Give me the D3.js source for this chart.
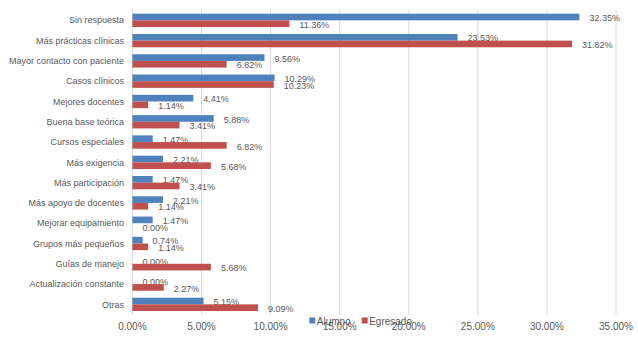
<!DOCTYPE html>
<html><head><meta charset="utf-8">
<script src="https://cdn.jsdelivr.net/npm/d3@7"></script>
<style>body{margin:0;background:#fff}</style>
</head><body>
<svg id="c" width="638" height="345"></svg>
<script>
const categories = ["Sin respuesta","Más prácticas clínicas","Mayor contacto con paciente","Casos clínicos","Mejores docentes","Buena base teórica","Cursos especiales","Más exigencia","Más participación","Más apoyo de docentes","Mejorar equipamiento","Grupos más pequeños","Guías de manejo","Actualización constante","Otras"];
const alumno = [32.35,23.53,9.56,10.29,4.41,5.88,1.47,2.21,1.47,2.21,1.47,0.74,0.00,0.00,5.15];
const egresado = [11.36,31.82,6.82,10.23,1.14,3.41,6.82,5.68,3.41,1.14,0.00,1.14,5.68,2.27,9.09];
const seriesNames = ["Alumno","Egresado"];
const colors = ["#4F81BD","#C0504D"];
const ticks = [0,5,10,15,20,25,30,35];

const svg = d3.select("#c");
const font = "'Liberation Sans', Arial, sans-serif";
const x = d3.scaleLinear().domain([0,35]).range([132.4,616]);
const y = d3.scaleBand().domain(categories).range([10.2,314.5]).paddingInner(0.345).paddingOuter(0.1725);
const ys = d3.scaleBand().domain(seriesNames).range([0,y.bandwidth()]);

// gridlines
svg.append("g").selectAll("line").data(ticks).join("line")
  .attr("x1",d=>x(d)).attr("x2",d=>x(d)).attr("y1",10).attr("y2",315)
  .attr("stroke","#D9D9D9").attr("stroke-width",1);

// tick labels
svg.append("g").selectAll("text").data(ticks).join("text")
  .attr("x",d=>x(d)).attr("y",330).attr("text-anchor","middle")
  .attr("font-family",font).attr("font-size",10).attr("fill","#595959")
  .text(d=>d.toFixed(2)+"%");

// category labels
svg.append("g").selectAll("text").data(categories).join("text")
  .attr("x",124).attr("y",d=>y(d)+y.bandwidth()/2).attr("dy","0.35em")
  .attr("text-anchor","end").attr("font-family",font).attr("font-size",9)
  .attr("fill","#595959").text(d=>d);

const data = [alumno, egresado];
data.forEach((vals,si)=>{
  const g = svg.append("g");
  g.selectAll("rect").data(vals).join("rect")
    .attr("x",x(0)).attr("y",(d,i)=>y(categories[i])+ys(seriesNames[si]))
    .attr("width",d=>x(d)-x(0)).attr("height",ys.bandwidth())
    .attr("fill",colors[si]);
  g.selectAll("text").data(vals).join("text")
    .attr("x",d=>x(d)+10).attr("y",(d,i)=>y(categories[i])+ys(seriesNames[si])+ys.bandwidth()/2+1)
    .attr("dy","0.35em").attr("font-family",font).attr("font-size",9)
    .attr("fill","#595959").text(d=>d.toFixed(2)+"%");
});

// legend
const leg = svg.append("g");
const legX = [309.3, 361.7];
seriesNames.forEach((n,i)=>{
  leg.append("rect").attr("x",legX[i]).attr("y",317.5).attr("width",6).attr("height",6).attr("fill",colors[i]);
  leg.append("text").attr("x",legX[i]+7.5).attr("y",324.5).attr("font-family",font).attr("font-size",10)
    .attr("fill","#595959").text(n);
});
</script>
</body></html>
